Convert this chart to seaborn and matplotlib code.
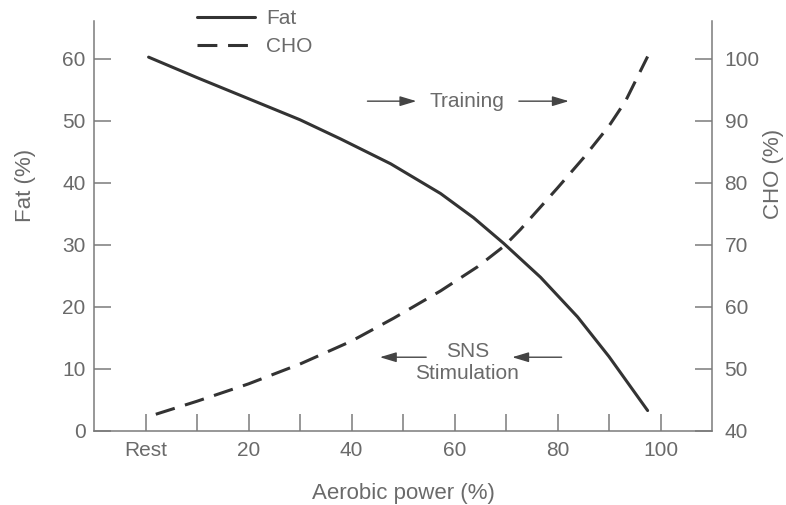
import matplotlib
matplotlib.use("Agg")
import matplotlib.pyplot as plt
import pandas as pd
import seaborn as sns

# ---- data ----
fat_power = [0.6, 10, 20, 30, 37.9, 47.6, 57.3, 63.7, 69.5, 76.7, 83.9, 90, 97.5]
fat_pct = [60.3, 57.0, 53.6, 50.2, 47.1, 43.1, 38.3, 34.4, 30.3, 24.8, 18.4, 12.0, 3.3]
cho_power = [2, 10, 20, 30, 40, 48.2, 57.3, 64.5, 69.6, 72.8, 80, 85, 90, 93.2, 97.5]
cho_pct = [42.7, 44.8, 47.6, 50.8, 54.5, 58.2, 62.6, 66.5, 69.8, 72.5, 79.2, 84.0, 89.2, 93.2, 100.4]
x_ticks = [0, 10, 20, 30, 40, 50, 60, 70, 80, 90, 100]
x_tick_labels = ["Rest", "", "20", "", "40", "", "60", "", "80", "", "100"]
fat_ticks = [0, 10, 20, 30, 40, 50, 60]
cho_ticks = [40, 50, 60, 70, 80, 90, 100]

sns.set_theme(style="ticks")
plt.rcParams["font.family"] = ["Liberation Sans", "DejaVu Sans"]

TXT = "#6a6a6a"
SPN = "#7a7a7a"
LN = "#333333"
FS = 15

fig = plt.figure(figsize=(7.86, 5.05), dpi=100)
ax = fig.add_axes([94 / 786, 74 / 505, 618 / 786, 410 / 505])
ax2 = ax.twinx()

fat_df = pd.DataFrame({"power": fat_power, "pct": fat_pct})
cho_df = pd.DataFrame({"power": cho_power, "pct": cho_pct})

sns.lineplot(data=fat_df, x="power", y="pct", ax=ax, color=LN, lw=2.2,
             estimator=None, sort=False, label="Fat")
sns.lineplot(data=cho_df, x="power", y="pct", ax=ax2, color=LN, lw=2.2,
             estimator=None, sort=False, label="CHO", dashes=False)
ax2.lines[0].set_dashes((6.5, 3.5))
for a in (ax, ax2):
    for ln in a.lines:
        ln.set_solid_joinstyle("round")
        ln.set_dash_joinstyle("round")

h1, l1 = ax.get_legend_handles_labels()
h2, l2 = ax2.get_legend_handles_labels()
for a in (ax, ax2):
    if a.get_legend() is not None:
        a.get_legend().remove()

ax.set_xlim(-10, 110)
ax.set_ylim(0, 410 / 6.2)
ax2.set_ylim(40, 40 + 410 / 6.2)

ax.set_xticks(x_ticks)
ax.set_xticklabels(x_tick_labels)
ax.set_yticks(fat_ticks)
ax2.set_yticks(cho_ticks)

for a in (ax, ax2):
    a.tick_params(direction="in", length=12.5, width=1.1, color=SPN,
                  labelcolor=TXT, labelsize=FS)
    for s in a.spines.values():
        s.set_color(SPN)
        s.set_linewidth(1.1)
    a.spines["top"].set_visible(False)
ax.tick_params(axis="y", pad=6)
ax.tick_params(axis="x", pad=7)
ax2.tick_params(axis="y", pad=9)
ax.spines["right"].set_visible(False)
ax2.spines["left"].set_visible(False)
ax2.spines["bottom"].set_visible(False)

ax.set_xlabel("Aerobic power (%)", fontsize=16, color=TXT, labelpad=17)
ax.set_ylabel("")
ax2.set_ylabel("")
fig.text(25 / 786, 1 - 185 / 505, "Fat (%)", rotation=90, ha="center",
         va="center", fontsize=16, color=TXT)
fig.text(773 / 786, 1 - 174 / 505, "CHO (%)", rotation=90, ha="center",
         va="center", fontsize=16, color=TXT)

# annotations
arrow_kw = dict(arrowstyle="-|>,head_length=1.0,head_width=0.3",
                color="#444444", lw=1.0, shrinkA=0, shrinkB=0,
                mutation_scale=10)
ax.text(62.5, 53.2, "Training", ha="center", va="center", fontsize=FS, color=TXT)
ax.annotate("", xy=(52.6, 53.2), xytext=(43.1, 53.2), arrowprops=arrow_kw)
ax.annotate("", xy=(82.2, 53.2), xytext=(72.5, 53.2), arrowprops=arrow_kw)
ax.text(62.5, 12.9, "SNS", ha="center", va="center", fontsize=FS, color=TXT)
ax.text(62.5, 9.2, "Stimulation", ha="center", va="center", fontsize=FS, color=TXT)
ax.annotate("", xy=(45.5, 11.9), xytext=(54.5, 11.9), arrowprops=arrow_kw)
ax.annotate("", xy=(71.2, 11.9), xytext=(80.8, 11.9), arrowprops=arrow_kw)

leg = fig.legend(h1 + h2, l1 + l2, loc="upper left",
                 bbox_to_anchor=(197 / 786, 1 - 9 / 505), frameon=False,
                 fontsize=FS, handlelength=2.8, handletextpad=0.5,
                 labelspacing=0.45, borderpad=0, borderaxespad=0)
for t in leg.get_texts():
    t.set_color(TXT)

fig.savefig("out.png", dpi=100)
